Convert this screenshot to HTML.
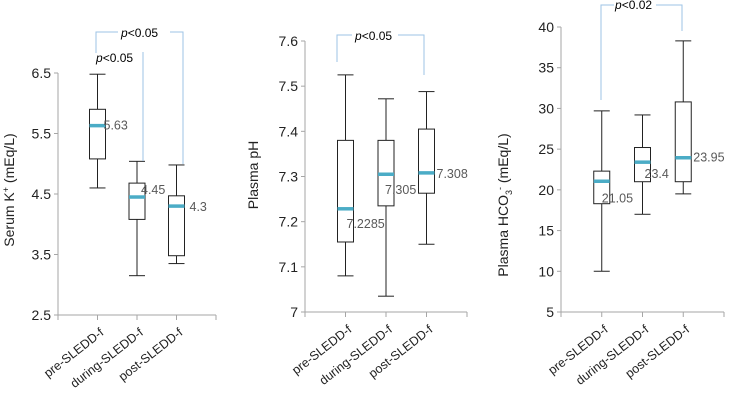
<!DOCTYPE html>
<html><head><meta charset="utf-8"><style>
html,body{margin:0;padding:0;background:#fff}
svg{display:block;font-family:"Liberation Sans",sans-serif}
</style></head><body>
<svg id="c" width="731" height="407" viewBox="0 0 731 407"></svg>
<script>
const categories = ["pre-SLEDD-f","during-SLEDD-f","post-SLEDD-f"];
const kTop = [6.48, 5.04, 4.98];
const kQ3 = [5.9, 4.68, 4.47];
const kMed = [5.63, 4.45, 4.3];
const kQ1 = [5.08, 4.08, 3.48];
const kLow = [4.6, 3.15, 3.35];
const kMedLabels = ["5.63","4.45","4.3"];
const kTicks = ["2.5","3.5","4.5","5.5","6.5"];
const phTop = [7.525, 7.472, 7.488];
const phQ3 = [7.38, 7.38, 7.405];
const phMed = [7.2285, 7.305, 7.308];
const phQ1 = [7.155, 7.235, 7.263];
const phLow = [7.08, 7.035, 7.15];
const phMedLabels = ["7.2285","7.305","7.308"];
const phTicks = ["7","7.1","7.2","7.3","7.4","7.5","7.6"];
const hTop = [29.7, 29.2, 38.3];
const hQ3 = [22.3, 25.2, 30.8];
const hMed = [21.05, 23.4, 23.95];
const hQ1 = [18.3, 21, 21];
const hLow = [10, 17, 19.5];
const hMedLabels = ["21.05","23.4","23.95"];
const hTicks = ["5","10","15","20","25","30","35","40"];

const svg = document.getElementById('c');
const NS = 'http://www.w3.org/2000/svg';
function mk(tag, attrs, parent){const e=document.createElementNS(NS,tag);for(const k in attrs)e.setAttribute(k,attrs[k]);(parent||svg).appendChild(e);return e;}

function panel(p){
  const g = mk('g',{});
  
  
  const yv = v => p.y0 + (v - p.vmin)/(p.vmax - p.vmin)*(p.y1 - p.y0);
  const xc = i => p.x0 + (i+1)*(p.x1-p.x0)/4;
  const ya = mk('line',{x1:p.x0,y1:p.y1,x2:p.x0,y2:p.y0,stroke:'#a6a6a6','stroke-width':1},g);
   
  const xa = mk('line',{x1:p.x0,y1:p.y0,x2:p.x1,y2:p.y0,stroke:'#a6a6a6','stroke-width':1},g);
   
  p.ticks.forEach(t=>{
    const y = yv(parseFloat(t));
    mk('line',{x1:p.x0-4,y1:y,x2:p.x0,y2:y,stroke:'#a6a6a6'},g);
    const tx = mk('text',{x:p.x0-7,y:y+5,'text-anchor':'end','font-size':14,fill:'#222'},g);
    tx.textContent = t;
     
  });
  for(let i=0;i<=4;i++){const x=p.x0+i*(p.x1-p.x0)/4;mk('line',{x1:x,y1:p.y0,x2:x,y2:p.y0+5,stroke:'#a6a6a6'},g);}
  categories.forEach((c,i)=>{
    const x = xc(i);
    const b = mk('g',{},g);
     
    const w = 8;
    mk('line',{x1:x,y1:yv(p.top[i]),x2:x,y2:yv(p.q3[i]),stroke:'#222'},b);
    mk('line',{x1:x,y1:yv(p.q1[i]),x2:x,y2:yv(p.low[i]),stroke:'#222'},b);
    mk('line',{x1:x-w,y1:yv(p.top[i]),x2:x+w,y2:yv(p.top[i]),stroke:'#222'},b);
    mk('line',{x1:x-w,y1:yv(p.low[i]),x2:x+w,y2:yv(p.low[i]),stroke:'#222'},b);
    mk('rect',{x:x-w,y:yv(p.q3[i]),width:2*w,height:yv(p.q1[i])-yv(p.q3[i]),fill:'#fff',stroke:'#222'},b);
    mk('line',{x1:x-w,y1:yv(p.med[i]),x2:x+w,y2:yv(p.med[i]),stroke:'#4bacc6','stroke-width':3.5},b);
    const o = p.labOff[i];
    const lt = mk('text',{x:x+o[0],y:yv(p.med[i])+o[1],'font-size':12.5,fill:'#595959'},b);
    lt.textContent = p.medLabels[i];
     
    const lx = x+7, ly = p.y0+19;
    const xl = mk('text',{x:lx,y:ly,'text-anchor':'end','font-size':12.5,fill:'#222',transform:`rotate(-38 ${lx} ${ly})`},g);
    xl.textContent = c;
     
  });
  const yt = mk('text',{x:p.ylx,y:p.yly,'text-anchor':'middle','font-size':14,fill:'#222',transform:`rotate(-90 ${p.ylx} ${p.yly})`},g);
  yt.innerHTML = p.ylabel;
   
  p.brackets.forEach(br=>{
    const pl = mk('polyline',{points:br.pts,fill:'none',stroke:'#9dc3e6','stroke-width':1},g);
     
    if(br.gap){mk('rect',{x:br.gap[0],y:br.gap[1],width:br.gap[2],height:6,fill:'#fff'},g);}
    const t = mk('text',{x:br.tx,y:br.ty,'font-size':12,fill:'#000'},g);
    t.innerHTML = '<tspan font-style="italic">p</tspan>'+br.text;
     
  });
}

panel({name:'serum-k-panel',x0:58,x1:216,y0:315,y1:73,vmin:2.5,vmax:6.5,ticks:kTicks,
  top:kTop,q3:kQ3,med:kMed,q1:kQ1,low:kLow,medLabels:kMedLabels,
  labOff:[[6,4],[4,-3],[13,5]],ylx:14,yly:190,ylabel:'Serum K<tspan font-size="9" dy="-5">+</tspan><tspan dy="5"> (mEq/L)</tspan>',
  brackets:[{pts:'96,53 96,32 183,32 183,164',gap:[118,29,52],tx:121,ty:37,text:'&lt;0.05'},
            {pts:'143,52 143,161',tx:96,ty:62,text:'&lt;0.05'}]});
panel({name:'plasma-ph-panel',x0:305,x1:467,y0:312,y1:41,vmin:7.0,vmax:7.6,ticks:phTicks,
  top:phTop,q3:phQ3,med:phMed,q1:phQ1,low:phLow,medLabels:phMedLabels,
  labOff:[[1,19],[-1,20],[10,5]],ylx:258,yly:175,ylabel:'Plasma pH',
  brackets:[{pts:'337,62 337,35 424,35 424,75',gap:[352,32,46],tx:355,ty:40,text:'&lt;0.05'}]});
panel({name:'plasma-hco3-panel',x0:561,x1:724,y0:312,y1:27,vmin:5,vmax:40,ticks:hTicks,
  top:hTop,q3:hQ3,med:hMed,q1:hQ1,low:hLow,medLabels:hMedLabels,
  labOff:[[0,21],[2,16],[10,4]],ylx:508,yly:205,ylabel:'Plasma HCO<tspan font-size="9" dy="4">3</tspan><tspan font-size="9" dy="-9">-</tspan><tspan dy="5"> (mEq/L)</tspan>',
  brackets:[{pts:'601,100 601,5 682,5 682,31',gap:[614,2,42],tx:615,ty:9,text:'&lt;0.02'}]});
</script>
</body></html>
